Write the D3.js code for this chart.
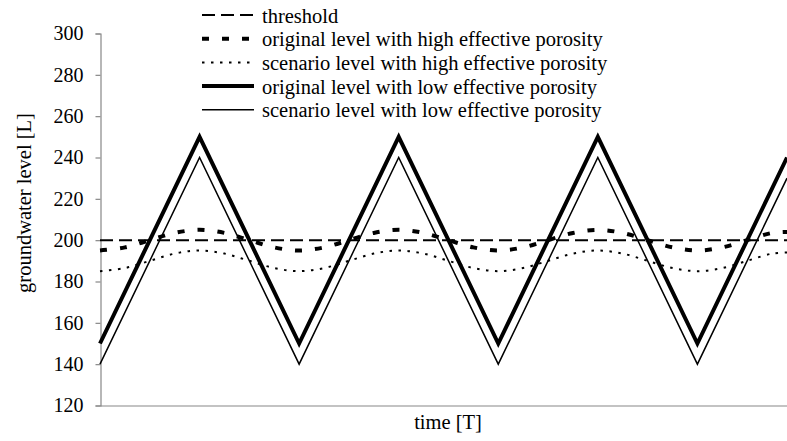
<!DOCTYPE html>
<html>
<head>
<meta charset="utf-8">
<script src="https://cdn.jsdelivr.net/npm/d3@7"></script>
<style>
  html, body { margin: 0; padding: 0; background: #fff; }
  svg { display: block; }
  text { font-family: "Liberation Serif", "Times New Roman", serif; fill: #000; }
</style>
</head>
<body>
<svg id="chart" width="787" height="441"></svg>
<script>
// ---- data ----
const yTicks = [120, 140, 160, 180, 200, 220, 240, 260, 280, 300];

const thresholdTime = [0, 6.9];
const thresholdLevel = [200, 200];

const highTime = [0, 0.25, 0.5, 0.75, 1, 1.25, 1.5, 1.75, 2, 2.25, 2.5, 2.75, 3, 3.25, 3.5, 3.75,
                  4, 4.25, 4.5, 4.75, 5, 5.25, 5.5, 5.75, 6, 6.25, 6.5, 6.75, 6.9];
const originalHigh = [195, 196.5, 200, 203.5, 205, 203.5, 200, 196.5,
                      195, 196.5, 200, 203.5, 205, 203.5, 200, 196.5,
                      195, 196.5, 200, 203.5, 205, 203.5, 200, 196.5,
                      195, 196.5, 200, 203.5, 204];
const scenarioHigh = [185, 186.5, 190, 193.5, 195, 193.5, 190, 186.5,
                      185, 186.5, 190, 193.5, 195, 193.5, 190, 186.5,
                      185, 186.5, 190, 193.5, 195, 193.5, 190, 186.5,
                      185, 186.5, 190, 193.5, 194];

const lowTime = [0, 1, 2, 3, 4, 5, 6, 6.9];
const originalLow = [150, 250, 150, 250, 150, 250, 150, 240];
const scenarioLow = [140, 240, 140, 240, 140, 240, 140, 230];

const seriesNames = [
  "threshold",
  "original level with high effective porosity",
  "scenario level with high effective porosity",
  "original level with low effective porosity",
  "scenario level with low effective porosity"
];

// ---- styles ----
const styles = [
  { width: 2, dash: "13,6" },
  { width: 4, dash: "7,13" },
  { width: 2, dash: "2.5,6.5" },
  { width: 4, dash: null },
  { width: 1.5, dash: null }
];

const series = [
  { t: thresholdTime, v: thresholdLevel, curve: d3.curveLinear },
  { t: highTime, v: originalHigh, curve: d3.curveCatmullRom },
  { t: highTime, v: scenarioHigh, curve: d3.curveCatmullRom },
  { t: lowTime, v: originalLow, curve: d3.curveLinear },
  { t: lowTime, v: scenarioLow, curve: d3.curveLinear }
];

const svg = d3.select("#chart");
svg.append("rect").attr("width", 787).attr("height", 441).attr("fill", "#fff");

const x = d3.scaleLinear().domain([0, 6.9]).range([100, 787]);
const y = d3.scaleLinear().domain([120, 300]).range([405.5, 33.5]);

// y axis
const yAxis = d3.axisLeft(y).tickValues(yTicks).tickSize(5).tickPadding(12).tickFormat(d3.format("d"));
const gy = svg.append("g").attr("transform", "translate(100.5,0)").call(yAxis);
gy.select(".domain").attr("stroke", "#888").attr("stroke-width", 1.2);
gy.selectAll(".tick line").attr("stroke", "#888").attr("stroke-width", 1.2);
gy.selectAll(".tick text").attr("font-size", "20px").attr("fill", "#000");

// x axis
const xAxis = d3.axisBottom(x).tickValues([]).tickSizeOuter(0);
const gx = svg.append("g").attr("transform", "translate(0,405.5)").call(xAxis);
gx.select(".domain").attr("stroke", "#888").attr("stroke-width", 1.2);

// lines
series.forEach((s, i) => {
  const pts = s.t.map((t, j) => [t, s.v[j]]);
  const line = d3.line().x(d => x(d[0])).y(d => y(d[1])).curve(s.curve);
  const p = svg.append("path")
    .attr("d", line(pts))
    .attr("fill", "none")
    .attr("stroke", "#000")
    .attr("stroke-width", styles[i].width)
    .attr("stroke-linejoin", "miter");
  if (styles[i].dash) p.attr("stroke-dasharray", styles[i].dash);
});

// legend
const legend = svg.append("g");
seriesNames.forEach((name, i) => {
  const ly = 15 + i * 23.7;
  const l = legend.append("line")
    .attr("x1", 202).attr("x2", 254).attr("y1", ly).attr("y2", ly)
    .attr("stroke", "#000").attr("stroke-width", styles[i].width);
  if (styles[i].dash) l.attr("stroke-dasharray", styles[i].dash);
  legend.append("text")
    .attr("x", 262).attr("y", ly + 7.5)
    .attr("font-size", "20.5px")
    .text(name);
});

// axis titles
svg.append("text")
  .attr("x", 448).attr("y", 429)
  .attr("text-anchor", "middle")
  .attr("font-size", "20.5px")
  .text("time [T]");

svg.append("text")
  .attr("transform", "translate(31,203) rotate(-90)")
  .attr("text-anchor", "middle")
  .attr("font-size", "20.5px")
  .text("groundwater level [L]");
</script>
</body>
</html>
